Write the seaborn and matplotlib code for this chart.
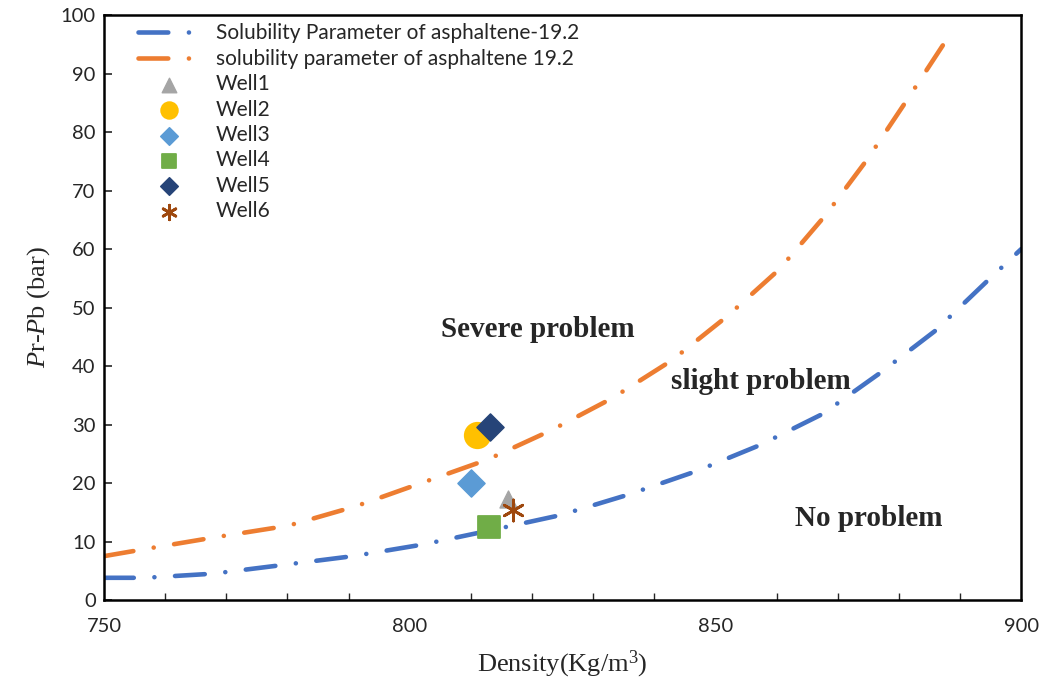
import numpy as np
import pandas as pd
import matplotlib
matplotlib.use("Agg")
import matplotlib.pyplot as plt
import seaborn as sns
from matplotlib.ticker import MultipleLocator
from matplotlib.collections import PathCollection

# Curves
blue_density = [750, 756.7, 767.8, 779.3, 790.7, 802.2, 813.6, 824.6, 835.7,
                846.8, 857.3, 867.5, 876.9, 885.9, 894.4, 900]
blue_dp = [3.8, 3.8, 4.5, 6.0, 7.5, 9.5, 12.0, 14.5, 18.0,
           22.0, 26.5, 31.8, 38.8, 46.0, 54.5, 60.0]

orange_density = [750, 757.2, 768.6, 780.1, 791.1, 801.9, 812.7, 823.1, 833.1,
                  842.9, 851.9, 860.4, 868.0, 874.8, 881.2, 887.6]
orange_dp = [7.5, 8.8, 10.8, 12.7, 16.0, 20.0, 24.0, 29.0, 34.5,
             41.0, 48.5, 56.5, 65.8, 75.3, 85.3, 95.5]

# Wells
well_names = ["Well1", "Well2", "Well3", "Well4", "Well5", "Well6"]
well_density = [816.1, 811.0, 810.0, 813.0, 813.1, 816.9]
well_dp = [17.3, 28.2, 20.0, 12.5, 29.6, 15.4]
well_colors = ["#A5A5A5", "#FFC000", "#5B9BD5", "#70AD47", "#264478", "#9E480E"]
well_markers = ["^", "o", "D", "s", "D", (6, 2, 0)]
well_sizes = [150, 330, 190, 260, 190, 230]
legend_sizes = [110, 140, 80, 110, 80, 110]

sns.set_style("white")
plt.rcParams["mathtext.fontset"] = "custom"
plt.rcParams["mathtext.rm"] = "Liberation Serif"
plt.rcParams["mathtext.it"] = "Liberation Serif:italic"
plt.rcParams["font.family"] = ["Lato", "DejaVu Sans"]

fig = plt.figure(figsize=(10.42, 6.9), dpi=100)
ax = fig.add_axes([0.0998, 0.1304, 0.8803, 0.8478])

dash = (0, (6.5, 4.5, 0.01, 4.5))
sns.lineplot(x=blue_density, y=blue_dp, sort=False, color="#4472C4", lw=3.3,
             linestyle=dash, dash_capstyle="round",
             label="Solubility Parameter of asphaltene-19.2", ax=ax)
sns.lineplot(x=orange_density, y=orange_dp, sort=False, color="#ED7D31", lw=3.3,
             linestyle=dash, dash_capstyle="round",
             label="solubility parameter of asphaltene 19.2", ax=ax)

for name, xx, yy, c, m, s in zip(well_names, well_density, well_dp,
                                 well_colors, well_markers, well_sizes):
    if m == (6, 2, 0):
        sns.scatterplot(x=[xx], y=[yy], marker=m, s=s, color=c, linewidth=2,
                        label=name, ax=ax, zorder=5)
    else:
        sns.scatterplot(x=[xx], y=[yy], marker=m, s=s, color=c, edgecolor=c,
                        label=name, ax=ax, zorder=5)

ax.set_xlim(750, 900)
ax.set_ylim(0, 100)
ax.xaxis.set_major_locator(MultipleLocator(50))
ax.xaxis.set_minor_locator(MultipleLocator(10))
ax.yaxis.set_major_locator(MultipleLocator(10))
ax.tick_params(axis="x", which="major", direction="inout", length=10, width=1.2,
               pad=8)
ax.tick_params(axis="x", which="minor", direction="in", length=5, width=1.0,
               bottom=True)
ax.tick_params(axis="y", which="major", direction="in", length=6, width=1.2,
               left=True, labelsize=14.5, pad=6)
for lab in ax.get_xticklabels():
    lab.set_family(["Liberation Sans Narrow", "DejaVu Sans Condensed", "Lato"])
    lab.set_fontsize(14.5)
for sp in ax.spines.values():
    sp.set_color("black")
    sp.set_linewidth(1.8)

ax.set_xlabel("Density(Kg/m$^3$)", family="Liberation Serif", fontsize=19,
              labelpad=10)
ax.set_ylabel("$\\mathit{P}$r-$\\mathit{P}$b (bar)", family="Liberation Serif",
              fontsize=19, labelpad=6)

ax.text(821, 46.3, "Severe problem", family="Liberation Serif", weight="bold",
        fontsize=21, ha="center", va="center")
ax.text(857.5, 37.3, "slight problem", family="Liberation Serif", weight="bold",
        fontsize=21, ha="center", va="center")
ax.text(875, 14, "No problem", family="Liberation Serif", weight="bold",
        fontsize=21, ha="center", va="center")

leg = ax.legend(loc="upper left", frameon=False, fontsize=15, handlelength=3.0,
                labelspacing=0.26, borderaxespad=0.0, handletextpad=0.75,
                bbox_to_anchor=(0.028, 1.0))
k = 0
for h in leg.legend_handles:
    if isinstance(h, PathCollection):
        h.set_sizes([legend_sizes[k]])
        k += 1

fig.savefig("out.png", dpi=100)
